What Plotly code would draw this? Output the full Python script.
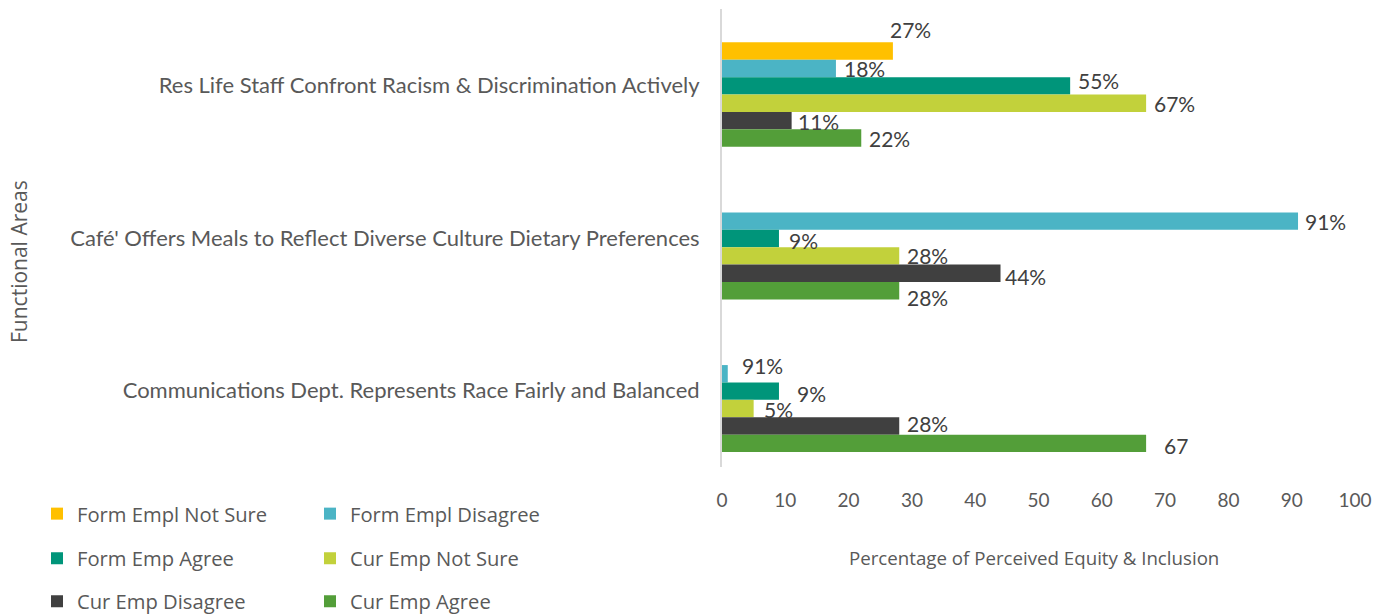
import plotly.graph_objects as go

# ---- data ----
categories = [
    "Res Life Staff Confront Racism & Discrimination Actively",
    "Café' Offers Meals to Reflect Diverse Culture Dietary Preferences",
    "Communications Dept. Represents Race Fairly and Balanced",
]
series_names = [
    "Form Empl Not Sure", "Form Empl Disagree", "Form Emp Agree",
    "Cur Emp Not Sure", "Cur Emp Disagree", "Cur Emp Agree",
]
form_empl_not_sure = [27, None, None]
form_empl_disagree = [18, 91, 0.91]
form_emp_agree = [55, 9, 9]
cur_emp_not_sure = [67, 28, 5]
cur_emp_disagree = [11, 44, 28]
cur_emp_agree = [22, 28, 67]
series_values = [form_empl_not_sure, form_empl_disagree, form_emp_agree,
                 cur_emp_not_sure, cur_emp_disagree, cur_emp_agree]

# number format used by each data label
PCT = "{:.0f}%"
FRAC_PCT = "{:.0%}"
PLAIN = "{:.0f}"
label_formats = [
    [PCT, PCT, PCT],
    [PCT, PCT, FRAC_PCT],
    [PCT, PCT, PCT],
    [PCT, PCT, PCT],
    [PCT, PCT, PCT],
    [PCT, PCT, PLAIN],
]

x_ticks = list(range(0, 101, 10))

# ---- styling ----
colors = ["#FFC000", "#4BB4C5", "#00957A", "#C2D13B", "#404040", "#539E39"]
legend_rows = ["legend", "legend", "legend2", "legend2", "legend3", "legend3"]

# label nudges in px: (dx, dy) with dy measured downwards
label_nudges = [
    [(-5, -22), None, None],
    [(6, 0), (5, 0), (12, -8)],
    [(6, -5), (8, 2), (16, 2)],
    [(6, 0), (6, 0), (8, 1)],
    [(4, 1), (2, 3), (6, -2)],
    [(6, 0), (6, 7), (16, 2)],
]

W, H = 1389, 616
M_L, M_R, M_T, M_B = 722, 34, 9, 149
plot_w = W - M_L - M_R
plot_h = H - M_T - M_B
band_px = plot_h / len(categories)
slot_px = 17.4
first_slot_top_px = -43.0  # relative to the band centre
bar_w = slot_px / band_px

fig = go.Figure()
annotations = []
for i, (name, vals) in enumerate(zip(series_names, series_values)):
    offset = (first_slot_top_px + slot_px * i) / band_px
    fig.add_trace(go.Bar(
        name=name,
        y=list(range(len(categories))),
        x=vals,
        orientation="h",
        width=bar_w,
        offset=offset,
        marker=dict(color=colors[i], line=dict(width=0)),
        legend=legend_rows[i],
        hoverinfo="skip",
    ))
    for k, v in enumerate(vals):
        if v is None:
            continue
        dx, dy = label_nudges[i][k]
        annotations.append(dict(
            x=v, y=k + offset + bar_w / 2, xref="x", yref="y",
            text=label_formats[i][k].format(v),
            showarrow=False, xanchor="left", yanchor="middle",
            xshift=dx, yshift=-dy,
            font=dict(family="Lato", size=21, color="#404040"),
        ))

# axis titles
annotations.append(dict(
    text="Functional Areas", xref="paper", yref="paper",
    x=(19 - M_L) / plot_w, y=(H - M_B - 262) / plot_h,
    showarrow=False, textangle=-90, xanchor="center", yanchor="middle",
    font=dict(family="Open Sans", size=21, color="#595959"),
))
annotations.append(dict(
    text="Percentage of Perceived Equity & Inclusion", xref="paper", yref="paper",
    x=(1034 - M_L) / plot_w, y=(H - M_B - 557) / plot_h,
    showarrow=False, xanchor="center", yanchor="middle",
    font=dict(family="Open Sans", size=18.7, color="#595959"),
))

legend_font = dict(family="Open Sans", size=20.2, color="#595959")
leg_x = (37 - M_L) / plot_w
def legend_row(py):
    return dict(
        orientation="h", x=leg_x, xanchor="left",
        y=(H - M_B - py) / plot_h, yanchor="middle",
        font=legend_font, entrywidth=228, entrywidthmode="pixels",
        bgcolor="rgba(0,0,0,0)", borderwidth=0, itemclick=False,
    )

fig.update_layout(
    width=W, height=H,
    margin=dict(l=M_L, r=M_R, t=M_T, b=M_B, autoexpand=False),
    paper_bgcolor="white", plot_bgcolor="white",
    barmode="group",
    showlegend=True,
    legend=legend_row(514),
    legend2=legend_row(558.5),
    legend3=legend_row(601.5),
    annotations=annotations,
    xaxis=dict(
        range=[0, 100], tickvals=x_ticks, showgrid=False, zeroline=False,
        showline=False, ticks="", ticklabelstandoff=20,
        tickfont=dict(family="Lato", size=19, color="#595959"),
        fixedrange=True,
    ),
    yaxis=dict(
        range=[len(categories) - 0.5, -0.5],
        tickvals=list(range(len(categories))), ticktext=categories,
        showgrid=False, zeroline=False, showline=True,
        linecolor="#D9D9D9", linewidth=2, ticks="", ticklabelstandoff=16,
        tickfont=dict(family="Lato", size=22, color="#595959"),
        fixedrange=True,
    ),
)

fig.write_html("out.html", config={"displayModeBar": False})
